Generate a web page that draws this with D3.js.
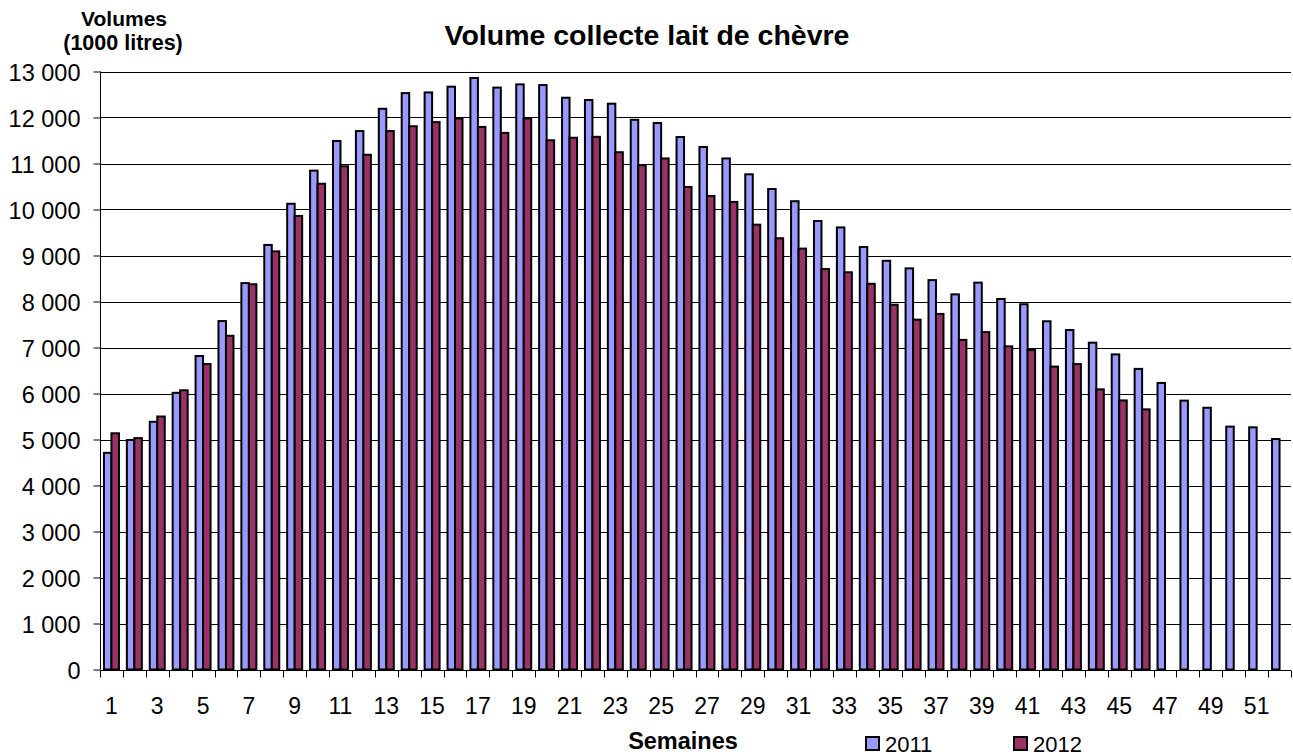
<!DOCTYPE html>
<html>
<head>
<meta charset="utf-8">
<script src="https://cdn.jsdelivr.net/npm/d3@7"></script>
<style>
body { margin: 0; background: #fff; }
svg text { font-family: "Liberation Sans", Arial, sans-serif; fill: #000; }
</style>
</head>
<body>
<svg id="chart" width="1293" height="756"></svg>
<script>
const weeks = d3.range(1, 53);
const series2011 = [4710, 4990, 5385, 6015, 6815, 7575, 8400, 9230, 10125, 10845,
  11490, 11705, 12190, 12530, 12545, 12670, 12860, 12650, 12720, 12705,
  12430, 12380, 12300, 11950, 11880, 11575, 11360, 11110, 10765, 10445,
  10180, 9750, 9610, 9185, 8885, 8720, 8465, 8155, 8410, 8055,
  7940, 7570, 7380, 7105, 6850, 6535, 6230, 5845, 5690, 5280,
  5265, 5010];
const series2012 = [5135, 5030, 5500, 6070, 6640, 7255, 8375, 9090, 9860, 10560,
  10940, 11190, 11705, 11810, 11900, 11980, 11795, 11665, 11980, 11505,
  11560, 11580, 11245, 10960, 11110, 10490, 10295, 10165, 9670, 9375,
  9150, 8705, 8635, 8385, 7930, 7605, 7730, 7165, 7335, 7025,
  6945, 6585, 6640, 6090, 5850, 5655];
const seriesNames = ["2011", "2012"];
const seriesColors = ["#9999FF", "#993366"];
const yTicks = d3.range(0, 13001, 1000);
const title = "Volume collecte lait de chèvre";
const yLabel = ["Volumes", "(1000 litres)"];
const xLabel = "Semaines";

const svg = d3.select("#chart");
const pLeft = 100, pRight = 1291, pTop = 71.5, pBottom = 669.5;

const x0 = d3.scaleBand().domain(weeks).range([pLeft, pRight]).padding(0);
const x1 = d3.scaleBand().domain(seriesNames).range([0, x0.bandwidth()]).paddingInner(0).paddingOuter(0.527);
const y = d3.scaleLinear().domain([0, 13000]).range([pBottom, pTop]);

const fmt = v => d3.format(",")(v).replace(/,/g, " ");

// gridlines
svg.append("g").selectAll("line").data(yTicks.filter(d => d > 0)).join("line")
  .attr("x1", pLeft).attr("x2", pRight)
  .attr("y1", d => Math.round(y(d)) + 0.5).attr("y2", d => Math.round(y(d)) + 0.5)
  .attr("stroke", "#000").attr("stroke-width", 1);

// bars
const data = [];
weeks.forEach((w, i) => {
  if (series2011[i] != null) data.push({ w, s: "2011", v: series2011[i] });
  if (series2012[i] != null) data.push({ w, s: "2012", v: series2012[i] });
});
svg.append("g").selectAll("rect").data(data).join("rect")
  .attr("x", d => x0(d.w) + x1(d.s))
  .attr("y", d => y(d.v))
  .attr("width", x1.bandwidth())
  .attr("height", d => y(0) - y(d.v))
  .attr("fill", d => seriesColors[seriesNames.indexOf(d.s)])
  .attr("stroke", "#000").attr("stroke-width", 2);

// y axis
const yAxis = d3.axisLeft(y).tickValues(yTicks).tickFormat(fmt).tickSize(7).tickPadding(13);
const gy = svg.append("g").attr("transform", `translate(${pLeft + 0.5},0)`).call(yAxis);
gy.select(".domain").attr("stroke", "#000").attr("d", `M0,${pTop}V${pBottom}`);
gy.selectAll(".tick line").attr("stroke", "#000");
gy.selectAll("text").attr("font-size", 23.5).attr("fill", "#000").attr("dy", "0.4em")
  .style("font-family", "'Liberation Sans', Arial, sans-serif");

// x axis
const gx = svg.append("g").attr("transform", `translate(0,${Math.round(pBottom) + 0.5})`);
gx.append("line").attr("x1", pLeft).attr("x2", pRight).attr("stroke", "#000");
const bounds = d3.range(0, weeks.length + 1).map(i => pLeft + i * x0.step());
gx.selectAll("line.tk").data(bounds).join("line").attr("class", "tk")
  .attr("x1", d => Math.round(d) + 0.5).attr("x2", d => Math.round(d) + 0.5)
  .attr("y1", 0).attr("y2", 7).attr("stroke", "#000");
gx.selectAll("text").data(weeks.filter(w => w % 2 === 1)).join("text")
  .attr("x", d => x0(d) + x0.bandwidth() / 2)
  .attr("y", 43).attr("text-anchor", "middle").attr("font-size", 23)
  .text(d => d);

// title
svg.append("text").attr("x", 647).attr("y", 45).attr("text-anchor", "middle")
  .attr("font-size", 28.5).attr("font-weight", "bold").text(title);

// y label
svg.append("text").attr("x", 124).attr("y", 26).attr("text-anchor", "middle")
  .attr("font-size", 21).attr("font-weight", "bold").text(yLabel[0]);
svg.append("text").attr("x", 123).attr("y", 50).attr("text-anchor", "middle")
  .attr("font-size", 21.5).attr("font-weight", "bold").text(yLabel[1]);

// x label
svg.append("text").attr("x", 683).attr("y", 749).attr("text-anchor", "middle")
  .attr("font-size", 23.5).attr("font-weight", "bold").text(xLabel);

// legend
const legX = [866, 1014];
seriesNames.forEach((s, i) => {
  svg.append("rect").attr("x", legX[i]).attr("y", 737).attr("width", 13).attr("height", 13)
    .attr("fill", seriesColors[i]).attr("stroke", "#000").attr("stroke-width", 2);
  svg.append("text").attr("x", legX[i] + 19).attr("y", 752).attr("font-size", 22).text(s);
});
</script>
</body>
</html>
